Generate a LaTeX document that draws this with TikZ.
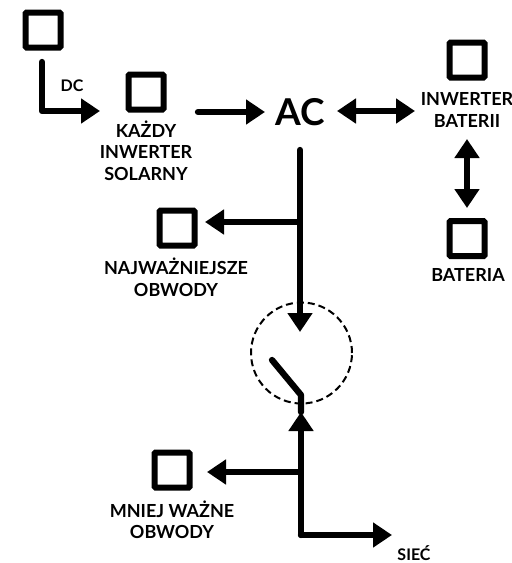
\documentclass[tikz,border=0pt]{standalone}
\usepackage{fontspec}
\setmainfont{Lato}
\usetikzlibrary{arrows.meta}
\tikzset{
  x=1pt,y=-1pt,
  device/.style={draw=black,line width=6pt,rounded corners=1pt,minimum size=35pt,inner sep=0pt,outer sep=0pt},
  lab/.style={font=\bfseries\fontsize{18}{21.5}\selectfont,align=center,inner sep=0pt,text=black},
  flow/.style={line width=6.3pt,line cap=round,line join=round,draw=black},
  tip/.style={-{Triangle[length=19pt,width=24pt]}},
  tips/.style={{Triangle[length=19pt,width=24pt]}-{Triangle[length=19pt,width=24pt]}},
}
\begin{document}
\begin{tikzpicture}
\useasboundingbox (0,0) rectangle (512,563);
\node[device] (pv) at (43,30) {};
\node[device] (solar) at (146,92) {};
\node[device] (batinv) at (467,60) {};
\node[device] (bat) at (467,238.5) {};
\node[device] (crit) at (177,228) {};
\node[device] (less) at (172,470) {};
\node[lab,font=\bfseries\fontsize{16}{20}\selectfont] (dc) at (72,85.5) {DC};
\node[lab] (solarl) at (146,150.5) {KAŻDY\\INWERTER\\SOLARNY};
\node[lab] (batinvl) at (467,110) {INWERTER\\BATERII};
\node[lab] (batl) at (468,275) {BATERIA};
\node[lab] (critl) at (176,277.5) {NAJWAŻNIEJSZE\\OBWODY};
\node[lab] (lessl) at (172,520) {MNIEJ WAŻNE\\OBWODY};
\node[lab,font=\bfseries\fontsize{16}{20}\selectfont] (grid) at (414,553) {SIEĆ};
\node[font=\bfseries\fontsize{37}{37}\selectfont,inner sep=0pt] (ac) at (300,112) {AC};
\node[draw=black,circle,dash pattern=on 7pt off 4pt,line width=2pt,minimum size=101pt,inner sep=0pt] (sw) at (301.5,353) {};
\coordinate (dcs) at (42,62);
\coordinate (dcc) at (42,111);
\coordinate (dce) at (100,111);
\coordinate (a1) at (198,112);
\coordinate (a2) at (265,112);
\coordinate (b1) at (337,111);
\coordinate (b2) at (415,111);
\coordinate (v1) at (467,139);
\coordinate (v2) at (467,208);
\coordinate (m1) at (300,150);
\coordinate (m2) at (300,332);
\coordinate (j1) at (300,222);
\coordinate (j1e) at (205,222);
\coordinate (s1) at (272,360);
\coordinate (s2) at (301,395);
\coordinate (s3) at (301,412);
\coordinate (g1) at (301,535);
\coordinate (g2) at (392,535);
\coordinate (j2) at (301,472);
\coordinate (j2e) at (207,472);
\draw[flow,tip,line cap=butt] (dcc) -- (dce);
\draw[flow] (dcs) -- (dcc) -- ++(4,0);
\draw[flow,tip] (a1) -- (a2);
\draw[flow,tips,line cap=butt] (b1) -- (b2);
\draw[flow,tips,line cap=butt] (v1) -- (v2);
\draw[flow,tip] (m1) -- (m2);
\draw[flow,tip,line cap=butt] (j1) -- (j1e);
\draw[flow] (s1) -- (s2) -- (s3);
\draw[flow,tip] (g1) -- (s3);
\draw[flow,tip,line cap=butt] (j2) -- (j2e);
\draw[flow,tip] (g1) -- (g2);
\end{tikzpicture}
\end{document}
